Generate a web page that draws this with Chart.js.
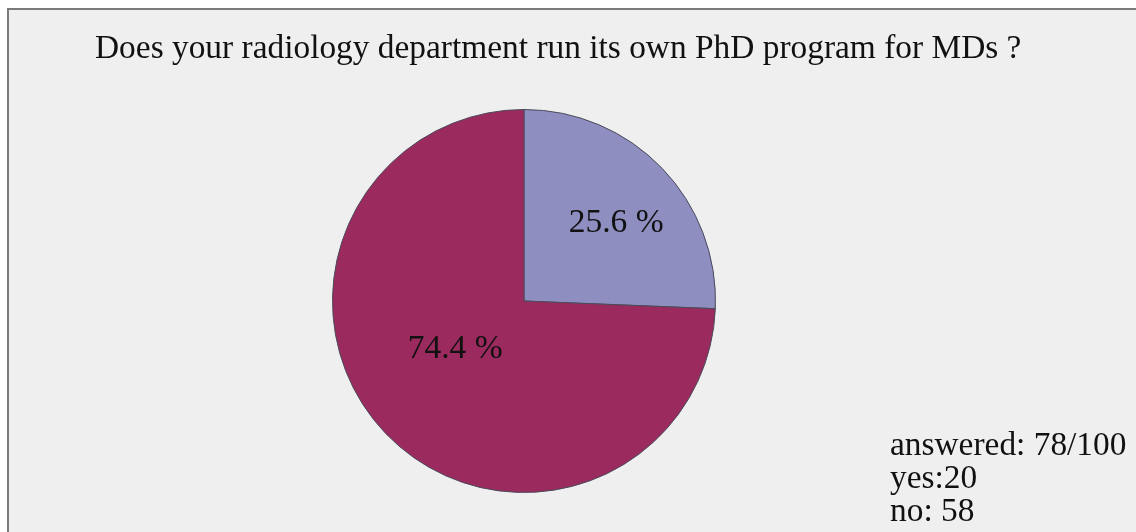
<!DOCTYPE html>
<html>
<head>
<meta charset="utf-8">
<script src="https://cdn.jsdelivr.net/npm/chart.js@4.4.1/dist/chart.umd.min.js"></script>
<style>
  body { margin: 0; background: #fff; width: 1136px; height: 532px; overflow: hidden; position: relative; font-family: "Liberation Serif", "Times New Roman", serif; color: #111; }
  #frame { position: absolute; left: 7px; top: 8px; width: 1140px; height: 540px; background: #efefef; border-left: 2px solid #7a7a7a; border-top: 2px solid #7a7a7a; }
  #title { position: absolute; left: 95px; top: 30px; font-size: 33.4px; line-height: 33.4px; white-space: nowrap; }
  #notes { position: absolute; left: 890px; top: 427px; font-size: 33.4px; line-height: 33px; white-space: nowrap; }
  #wrap { position: absolute; left: 0; top: 0; width: 1136px; height: 532px; }
</style>
</head>
<body>
<div id="frame"></div>
<div id="wrap"><canvas id="pie"></canvas></div>
<div id="title">Does your radiology department run its own PhD program for MDs ?</div>
<div id="notes">answered: 78/100<br>yes:20<br>no: 58</div>
<script>
const categories = ['yes', 'no'];
const counts = [20, 58];
const colors = ['#8e8ec1', '#9b2a5e'];

const total = counts.reduce((a, b) => a + b, 0);
// label placement along each slice: fraction of radius, angle shift in degrees
const labelRadius = [0.63, 0.44];
const labelShift = [3.6, 8.6];

const sliceLabels = {
  id: 'sliceLabels',
  afterDatasetsDraw(chart) {
    const ctx = chart.ctx;
    const meta = chart.getDatasetMeta(0);
    ctx.save();
    ctx.font = '33.5px "Liberation Serif", serif';
    ctx.fillStyle = '#111';
    ctx.textAlign = 'center';
    ctx.textBaseline = 'middle';
    meta.data.forEach((arc, i) => {
      const mid = (arc.startAngle + arc.endAngle) / 2 + labelShift[i] * Math.PI / 180;
      const r = arc.outerRadius * labelRadius[i];
      const pct = (counts[i] / total * 100).toFixed(1) + ' %';
      ctx.fillText(pct, arc.x + Math.cos(mid) * r, arc.y + Math.sin(mid) * r);
    });
    ctx.restore();
  }
};

new Chart(document.getElementById('pie'), {
  type: 'pie',
  data: {
    labels: categories,
    datasets: [{
      data: counts,
      backgroundColor: colors,
      borderColor: '#4a4a5a',
      borderWidth: 1
    }]
  },
  options: {
    responsive: true,
    maintainAspectRatio: false,
    animation: false,
    layout: { padding: { left: 332, right: 420, top: 109, bottom: 39 } },
    plugins: {
      legend: { display: false },
      tooltip: { enabled: false }
    }
  },
  plugins: [sliceLabels]
});
</script>
</body>
</html>
